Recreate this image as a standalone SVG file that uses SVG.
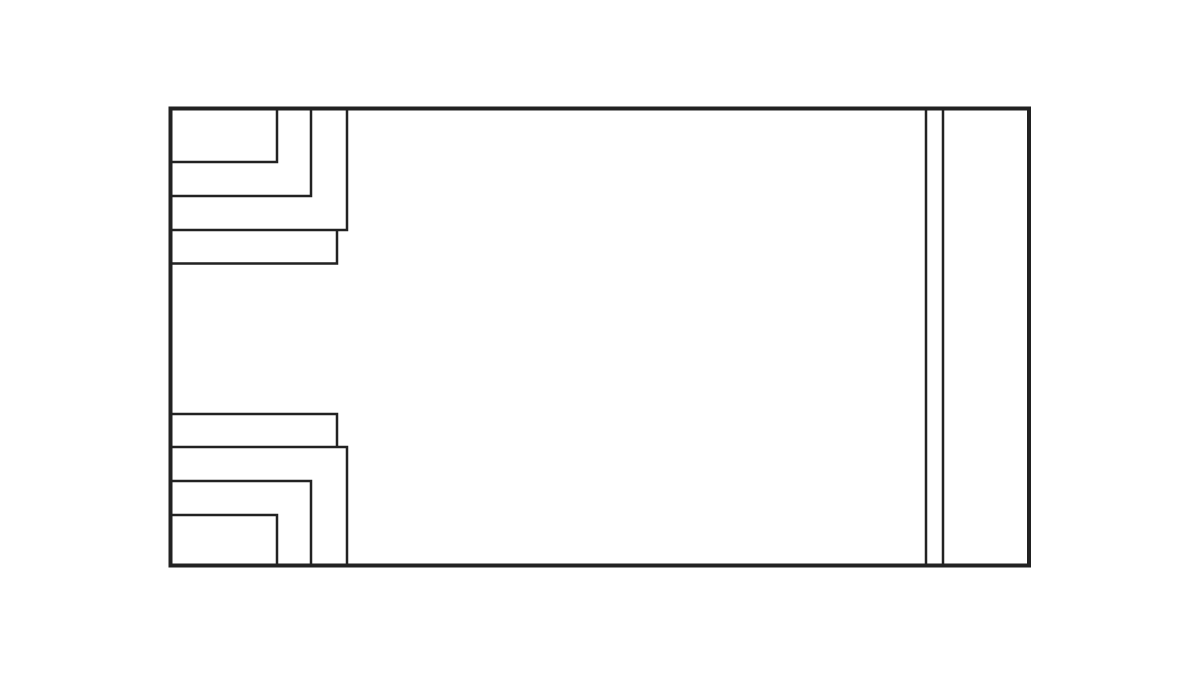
<svg xmlns="http://www.w3.org/2000/svg" width="1200" height="675" viewBox="0 0 1200 675">
<style>
.o{fill:none;stroke:#222;stroke-width:4}
.l{fill:none;stroke:#222;stroke-width:2.5}
</style>
<rect width="1200" height="675" fill="#fff"/>
<g id="top-left">
<polyline class="l" points="171,162 277,162 277,109"/>
<polyline class="l" points="171,196 311,196 311,109"/>
<polyline class="l" points="171,230 347,230 347,109"/>
<polyline class="l" points="337,230 337,263.5 171,263.5"/>
</g>
<g id="bottom-left">
<polyline class="l" points="171,414 337,414 337,447"/>
<polyline class="l" points="171,447 347,447 347,565"/>
<polyline class="l" points="171,481 311,481 311,565"/>
<polyline class="l" points="171,515 277,515 277,565"/>
</g>
<g id="right-strip">
<line class="l" x1="926" y1="109" x2="926" y2="565"/>
<line class="l" x1="943" y1="109" x2="943" y2="565"/>
</g>
<rect id="outline" class="o" x="170.5" y="108.5" width="858.5" height="457"/>
</svg>
